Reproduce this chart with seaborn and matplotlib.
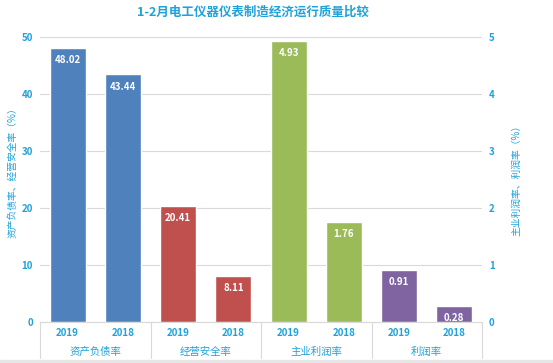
import seaborn as sns
import matplotlib.pyplot as plt
import pandas as pd

title = '1-2月电工仪器仪表制造经济运行质量比较'
groups = ['资产负债率', '经营安全率', '主业利润率', '利润率']
years = ['2019', '2018']
left_values = [48.02, 43.44, 20.41, 8.11]   # 资产负债率, 经营安全率 (left axis)
right_values = [4.93, 1.76, 0.91, 0.28]     # 主业利润率, 利润率 (right axis)
colors = ['#4F81BD', '#C0504D', '#9BBB59', '#8064A2']
txt = '#1FA2DA'

slots = [f'{g}|{y}' for g in groups for y in years]
df_left = pd.DataFrame({'slot': slots[:4], 'value': left_values,
                        'group': [g for g in groups[:2] for _ in years]})
df_right = pd.DataFrame({'slot': slots[4:], 'value': right_values,
                         'group': [g for g in groups[2:] for _ in years]})

sns.set_style('white')
plt.rcParams['font.family'] = ['Noto Sans CJK SC', 'DejaVu Sans']

fig = plt.figure(figsize=(5.53, 3.63), dpi=100)
ax = fig.add_axes([40 / 553, 1 - 322 / 363, 442 / 553, 285 / 363])
ax2 = ax.twinx()

sns.barplot(data=df_left, x='slot', y='value', hue='group', order=slots,
            hue_order=groups, palette=colors, width=0.65, dodge=False,
            saturation=1, legend=False, ax=ax, zorder=3)
sns.barplot(data=df_right, x='slot', y='value', hue='group', order=slots,
            hue_order=groups, palette=colors, width=0.65, dodge=False,
            saturation=1, legend=False, ax=ax2, zorder=3)

ax.set_ylim(0, 50)
ax2.set_ylim(0, 5)
ax.set_yticks(range(0, 51, 10))
ax2.set_yticks(range(0, 6))
ax.set_xlim(-0.5, 7.5)
ax.yaxis.grid(True, color='#D9D9D9', lw=0.8)
ax.set_axisbelow(True)

for a in (ax, ax2):
    for s in a.spines.values():
        s.set_visible(False)
    a.tick_params(axis='y', length=0, labelsize=7, labelcolor=txt, pad=5)
    for lab in a.get_yticklabels():
        lab.set_fontweight('bold')
    a.set_xlabel('')
    a.set_ylabel('')
ax.spines['bottom'].set_visible(True)
ax.spines['bottom'].set_color('#D9D9D9')

ax.set_xticks(range(8))
ax.set_xticklabels(years * 4, fontsize=7, color=txt, fontweight='bold')
ax.tick_params(axis='x', length=0, pad=4)

fig.text(13 / 553, 1 - 170 / 363, '资产负债率、经营安全率（%）', rotation=90,
         ha='center', va='center', fontsize=7, color=txt)
fig.text(516 / 553, 1 - 178 / 363, '主业利润率、利润率（%）', rotation=90,
         ha='center', va='center', fontsize=7, color=txt)

for a in (ax, ax2):
    for bar in a.patches:
        h = bar.get_height()
        if h > 0:
            a.text(bar.get_x() + bar.get_width() / 2, h - a.get_ylim()[1] * 0.025,
                   f'{h:.2f}', ha='center', va='top', color='white',
                   fontsize=7, fontweight='bold', zorder=4)

trans = ax.get_xaxis_transform()
for i in range(5):
    ax.plot([i * 2 - 0.5] * 2, [0, -0.125], transform=trans, color='#D9D9D9',
            lw=0.8, clip_on=False)
for i, g in enumerate(groups):
    ax.text(i * 2 + 0.5, -0.105, g, transform=trans, ha='center', va='center',
            fontsize=7.5, color=txt)

fig.text(0.458, 1 - 12 / 363, title, ha='center', va='center', fontsize=9,
         color=txt, fontweight='bold')
fig.patches.append(plt.Rectangle((0, 0), 1, 3 / 363, transform=fig.transFigure,
                                 color='#E6E6E6', zorder=0))

fig.savefig('out.png', dpi=100)
